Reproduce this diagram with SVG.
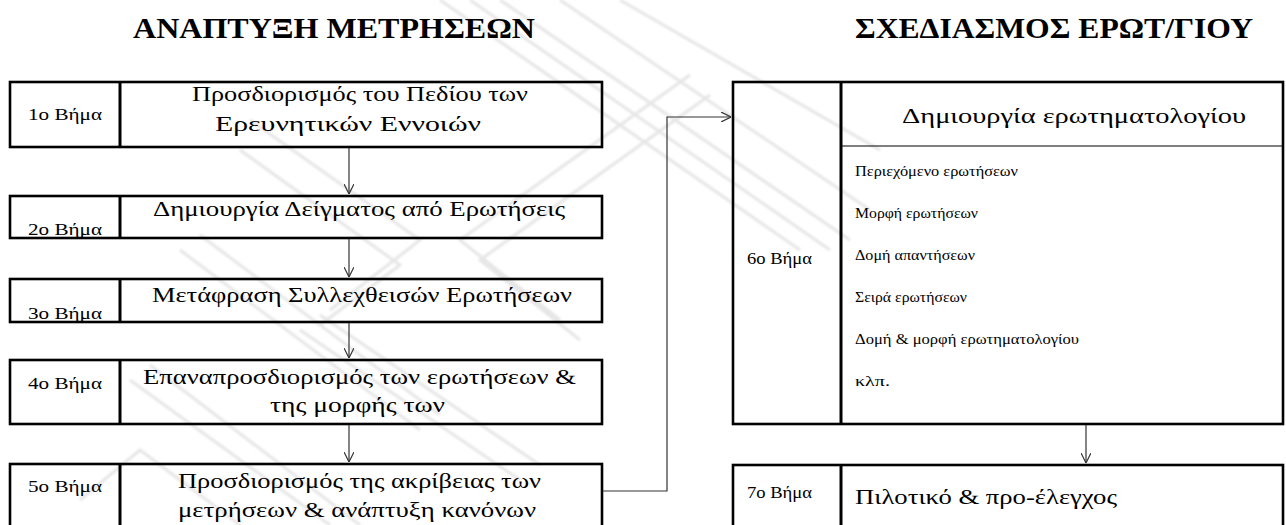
<svg xmlns="http://www.w3.org/2000/svg" width="1286" height="525" viewBox="0 0 1286 525">
  <style>
    .box { fill: none; stroke: #000; stroke-width: 2.6; }
    .div { stroke: #000; stroke-width: 3; }
    .thin { stroke: #000; stroke-width: 1.2; }
    .title { font-family: "Liberation Serif", "DejaVu Serif", serif; font-weight: bold; font-size: 30px; fill: #000; }
    .step { font-family: "Liberation Serif", "DejaVu Serif", serif; font-size: 16px; fill: #000; }
    .main { font-family: "Liberation Serif", "DejaVu Serif", serif; font-size: 21px; fill: #000; }
    .item { font-family: "Liberation Serif", "DejaVu Serif", serif; font-size: 15.5px; fill: #000; }
    .conn { fill: none; stroke: #333; stroke-width: 1.2; }
    .wm { fill: none; stroke: #e6e6e6; stroke-width: 3; }
  </style>
  <defs>
    <marker id="open" viewBox="0 0 10 10" refX="10" refY="5" markerWidth="10" markerHeight="10" markerUnits="userSpaceOnUse" orient="auto">
      <path d="M0,0 L10,5 L0,10" fill="none" stroke="#333" stroke-width="1.2"/>
    </marker>
    <filter id="soft" x="-5%" y="-5%" width="110%" height="110%">
      <feGaussianBlur stdDeviation="0.8"/>
    </filter>
  </defs>
  <rect width="1286" height="525" fill="#fff"/>

  <!-- faint background emblem made of parallel diagonal strokes -->
  <g id="watermark" class="wm" filter="url(#soft)">
    <path d="M440,0 L800,250 M470,0 L830,250 M500,0 L850,240 M560,0 L870,210 M620,0 L880,150"/>
    <path d="M690,75 L460,240 L560,320 M710,95 L480,260 L580,340"/>
    <path d="M250,120 L420,240 L330,310 M240,150 L400,265 L320,325"/>
    <path d="M180,250 L420,430 M200,235 L440,415"/>
    <path d="M130,380 L330,525 M150,365 L360,525 M300,330 L520,480 M320,315 L540,465"/>
    <path d="M80,500 L140,450 L240,525"/>
  </g>

  <!-- column headings -->
  <text class="title" x="133" y="38" textLength="402" lengthAdjust="spacingAndGlyphs">ΑΝΑΠΤΥΞΗ ΜΕΤΡΗΣΕΩΝ</text>
  <text class="title" x="855" y="38" textLength="398" lengthAdjust="spacingAndGlyphs">ΣΧΕΔΙΑΣΜΟΣ ΕΡΩΤ/ΓΙΟΥ</text>

  <g id="step1">
    <rect class="box" x="10" y="82" width="592" height="65"/>
    <line class="div" x1="120" y1="82" x2="120" y2="147"/>
    <text class="step" x="28" y="120" textLength="74" lengthAdjust="spacingAndGlyphs">1ο Βήμα</text>
    <text class="main" x="192" y="101" textLength="336" lengthAdjust="spacingAndGlyphs">Προσδιορισμός του Πεδίου των</text>
    <text class="main" x="215" y="131" textLength="266" lengthAdjust="spacingAndGlyphs">Ερευνητικών Εννοιών</text>
  </g>

  <g id="step2">
    <rect class="box" x="10" y="196" width="592" height="42"/>
    <line class="div" x1="120" y1="196" x2="120" y2="238"/>
    <text class="step" x="28" y="235" textLength="74" lengthAdjust="spacingAndGlyphs">2ο Βήμα</text>
    <text class="main" x="153" y="216" textLength="412" lengthAdjust="spacingAndGlyphs">Δημιουργία Δείγματος από Ερωτήσεις</text>
  </g>

  <g id="step3">
    <rect class="box" x="10" y="279" width="592" height="43"/>
    <line class="div" x1="120" y1="279" x2="120" y2="322"/>
    <text class="step" x="28" y="319" textLength="74" lengthAdjust="spacingAndGlyphs">3ο Βήμα</text>
    <text class="main" x="152" y="302" textLength="420" lengthAdjust="spacingAndGlyphs">Μετάφραση Συλλεχθεισών Ερωτήσεων</text>
  </g>

  <g id="step4">
    <rect class="box" x="10" y="360" width="592" height="64"/>
    <line class="div" x1="120" y1="360" x2="120" y2="424"/>
    <text class="step" x="28" y="389" textLength="74" lengthAdjust="spacingAndGlyphs">4ο Βήμα</text>
    <text class="main" x="143" y="384" textLength="433" lengthAdjust="spacingAndGlyphs">Επαναπροσδιορισμός των ερωτήσεων &amp;</text>
    <text class="main" x="270" y="412" textLength="175" lengthAdjust="spacingAndGlyphs">της μορφής των</text>
  </g>

  <g id="step5">
    <rect class="box" x="10" y="464" width="592" height="80"/>
    <line class="div" x1="120" y1="464" x2="120" y2="544"/>
    <text class="step" x="28" y="492" textLength="74" lengthAdjust="spacingAndGlyphs">5ο Βήμα</text>
    <text class="main" x="178" y="488" textLength="363" lengthAdjust="spacingAndGlyphs">Προσδιορισμός της ακρίβειας των</text>
    <text class="main" x="178" y="517" textLength="358" lengthAdjust="spacingAndGlyphs">μετρήσεων &amp; ανάπτυξη κανόνων</text>
  </g>

  <g id="step6">
    <rect class="box" x="733" y="82" width="550" height="342"/>
    <line class="div" x1="841" y1="82" x2="841" y2="424"/>
    <line class="thin" x1="841" y1="146" x2="1283" y2="146"/>
    <text class="step" x="747" y="264" textLength="65" lengthAdjust="spacingAndGlyphs">6ο Βήμα</text>
    <text class="main" x="902" y="123" textLength="344" lengthAdjust="spacingAndGlyphs">Δημιουργία ερωτηματολογίου</text>
    <text class="item" x="855" y="176" textLength="163" lengthAdjust="spacingAndGlyphs">Περιεχόμενο ερωτήσεων</text>
    <text class="item" x="855" y="218" textLength="123" lengthAdjust="spacingAndGlyphs">Μορφή ερωτήσεων</text>
    <text class="item" x="855" y="260" textLength="120" lengthAdjust="spacingAndGlyphs">Δομή απαντήσεων</text>
    <text class="item" x="855" y="302" textLength="112" lengthAdjust="spacingAndGlyphs">Σειρά ερωτήσεων</text>
    <text class="item" x="855" y="344" textLength="224" lengthAdjust="spacingAndGlyphs">Δομή &amp; μορφή ερωτηματολογίου</text>
    <text class="item" x="855" y="386" textLength="35" lengthAdjust="spacingAndGlyphs">κλπ.</text>
  </g>

  <g id="step7">
    <rect class="box" x="733" y="465" width="550" height="80"/>
    <line class="div" x1="841" y1="465" x2="841" y2="545"/>
    <text class="step" x="747" y="498" textLength="65" lengthAdjust="spacingAndGlyphs">7ο Βήμα</text>
    <text class="main" x="855" y="504" textLength="262" lengthAdjust="spacingAndGlyphs">Πιλοτικό &amp; προ-έλεγχος</text>
  </g>

  <g id="connectors">
    <line class="conn" x1="349" y1="148" x2="349" y2="194" marker-end="url(#open)"/>
    <line class="conn" x1="349" y1="239" x2="349" y2="277" marker-end="url(#open)"/>
    <line class="conn" x1="349" y1="323" x2="349" y2="358" marker-end="url(#open)"/>
    <line class="conn" x1="349" y1="425" x2="349" y2="462" marker-end="url(#open)"/>
    <polyline class="conn" points="603,491 667,491 667,117 731,117" marker-end="url(#open)"/>
    <line class="conn" x1="1086" y1="425" x2="1086" y2="463" marker-end="url(#open)"/>
  </g>
</svg>
